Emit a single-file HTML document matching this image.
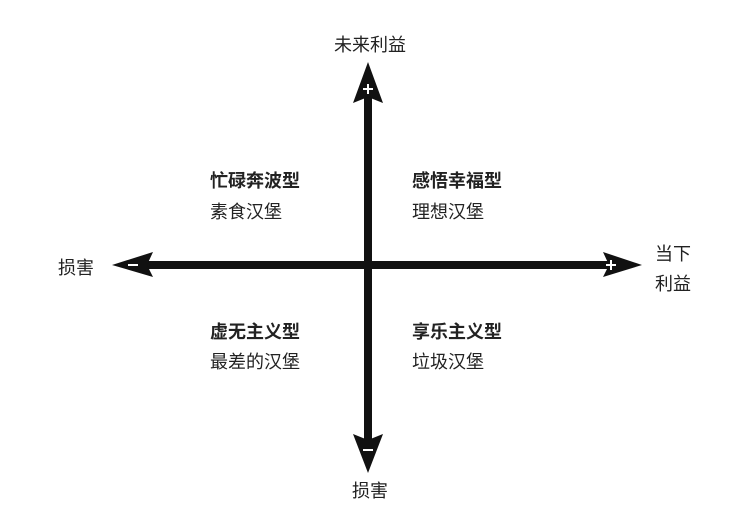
<!DOCTYPE html>
<html><head><meta charset="utf-8"><style>
body{margin:0;background:#fff;}
svg text{font-family:"Liberation Sans","Noto Sans CJK SC",sans-serif;fill:#222;}
.b{font-weight:bold;font-size:18px;}
.n{font-size:18px;}
</style></head><body>
<svg width="737" height="514" viewBox="0 0 737 514">
<rect x="364" y="95" width="8" height="345" fill="#111"/>
<rect x="145" y="261" width="465" height="8" fill="#111"/>
<polygon points="368,62 383,103 368,97 353,103" fill="#111"/>
<polygon points="368,473 383,434 368,440 353,434" fill="#111"/>
<polygon points="112,265 153,252 147,265 153,277" fill="#111"/>
<polygon points="642,265 603,252 609,265 603,277" fill="#111"/>
<path d="M363,89h10M368,84v10" stroke="#fff" stroke-width="2"/>
<path d="M363,450h10" stroke="#fff" stroke-width="2"/>
<path d="M128,265h10" stroke="#fff" stroke-width="2"/>
<path d="M606,265h10M611,260v10" stroke="#fff" stroke-width="2"/>
<text x="370" y="51" text-anchor="middle" class="n">未来利益</text>
<text x="58" y="274" class="n">损害</text>
<text x="655" y="260" class="n">当下</text>
<text x="655" y="290" class="n">利益</text>
<text x="370" y="497" text-anchor="middle" class="n">损害</text>
<text x="210" y="187" class="b">忙碌奔波型</text>
<text x="210" y="218" class="n">素食汉堡</text>
<text x="412" y="187" class="b">感悟幸福型</text>
<text x="412" y="218" class="n">理想汉堡</text>
<text x="210" y="338" class="b">虚无主义型</text>
<text x="210" y="368" class="n">最差的汉堡</text>
<text x="412" y="338" class="b">享乐主义型</text>
<text x="412" y="368" class="n">垃圾汉堡</text>
</svg>
</body></html>
